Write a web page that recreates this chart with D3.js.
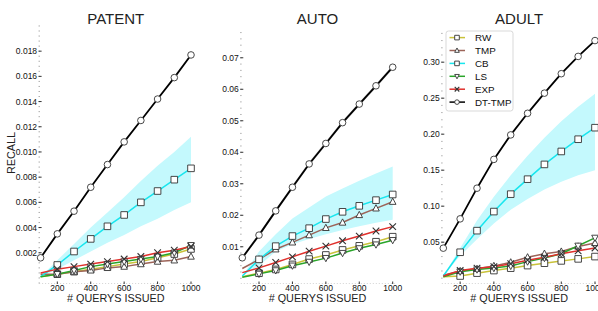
<!DOCTYPE html>
<html>
<head>
<meta charset="utf-8">
<script src="https://cdn.jsdelivr.net/npm/d3@7"></script>
<style>
  body { margin: 0; background: #fff; }
  svg { display: block; font-family: "Liberation Sans", Arial, sans-serif; }
</style>
</head>
<body>
<svg id="chart" width="598" height="311"></svg>
<script>
const QUERIES = [100, 200, 300, 400, 500, 600, 700, 800, 900, 1000]
const SERIES = ["RW", "TMP", "CB", "LS", "EXP", "DT-TMP"]
const X_TICKS = [200, 400, 600, 800, 1000]

// PATENT
const PATENT_RW = [0.0001, 0.0003, 0.0005, 0.0007, 0.0009, 0.0011, 0.0013, 0.0016, 0.0019, 0.0023]
const PATENT_TMP = [0.0003, 0.0003, 0.0005, 0.0006, 0.0008, 0.0009, 0.0011, 0.0013, 0.0014, 0.0017]
const PATENT_CB = [0.0001, 0.00103, 0.0021, 0.0031, 0.0041, 0.0050, 0.0060, 0.0069, 0.0078, 0.0087]
const PATENT_CB_LO = [0.0001, 0.0007, 0.0014, 0.0021, 0.0028, 0.0034, 0.0041, 0.0047, 0.0054, 0.0060]
const PATENT_CB_HI = [0.0001, 0.0014, 0.0027, 0.0040, 0.0052, 0.0064, 0.0077, 0.0089, 0.0100, 0.0112]
const PATENT_LS = [0.0001, 0.0003, 0.0006, 0.0009, 0.0011, 0.0013, 0.0015, 0.0017, 0.0020, 0.0026]
const PATENT_EXP = [0.0004, 0.0007, 0.0009, 0.0011, 0.0013, 0.0015, 0.0017, 0.0020, 0.0022, 0.0025]
const PATENT_DT = [0.0016, 0.0035, 0.0053, 0.0072, 0.0090, 0.0108, 0.0125, 0.0142, 0.0159, 0.0177]

// AUTO
const AUTO_RW = [0.0005, 0.0016, 0.0028, 0.0044, 0.0061, 0.0074, 0.0090, 0.0103, 0.0116, 0.0132]
const AUTO_TMP = [0.0031, 0.0060, 0.0092, 0.0114, 0.0137, 0.0160, 0.0177, 0.0201, 0.0222, 0.0243]
const AUTO_CB = [0.0007, 0.0060, 0.0102, 0.0134, 0.0159, 0.0188, 0.0211, 0.0230, 0.0248, 0.0266]
const AUTO_CB_LO = [0.0007, 0.0040, 0.0085, 0.0108, 0.0125, 0.0140, 0.0153, 0.0165, 0.0176, 0.0186]
const AUTO_CB_HI = [0.0007, 0.0085, 0.0140, 0.0190, 0.0225, 0.0260, 0.0285, 0.0310, 0.0333, 0.0355]
const AUTO_LS = [0.0003, 0.0014, 0.0025, 0.0040, 0.0052, 0.0064, 0.0080, 0.0095, 0.0107, 0.0121]
const AUTO_EXP = [0.0018, 0.0033, 0.0050, 0.0068, 0.0086, 0.0102, 0.0119, 0.0134, 0.0150, 0.0164]
const AUTO_DT = [0.0065, 0.0137, 0.0214, 0.0289, 0.0363, 0.0428, 0.0494, 0.0553, 0.0611, 0.0670]
const AUTO_DT_LO = [0.0060, 0.0131, 0.0208, 0.0283, 0.0357, 0.0422, 0.0488, 0.0547, 0.0605, 0.0664]
const AUTO_DT_HI = [0.0070, 0.0143, 0.0220, 0.0295, 0.0369, 0.0434, 0.0500, 0.0559, 0.0617, 0.0676]

// ADULT
const ADULT_RW = [0.002, 0.003, 0.007, 0.0106, 0.0139, 0.0175, 0.0208, 0.024, 0.0268, 0.030]
const ADULT_TMP = [0.004, 0.010, 0.013, 0.017, 0.022, 0.029, 0.034, 0.037, 0.044, 0.049]
const ADULT_CB = [0.003, 0.036, 0.066, 0.0925, 0.1167, 0.1375, 0.158, 0.176, 0.193, 0.209]
const ADULT_CB_LO = [0.003, 0.031, 0.054, 0.076, 0.095, 0.110, 0.123, 0.134, 0.143, 0.150]
const ADULT_CB_HI = [0.003, 0.042, 0.080, 0.113, 0.143, 0.170, 0.195, 0.218, 0.238, 0.256]
const ADULT_LS = [0.002, 0.009, 0.012, 0.014, 0.017, 0.023, 0.028, 0.034, 0.045, 0.056]
const ADULT_EXP = [0.003, 0.0106, 0.0139, 0.016, 0.020, 0.025, 0.029, 0.034, 0.038, 0.042]
const ADULT_DT = [0.0417, 0.0824, 0.125, 0.165, 0.199, 0.229, 0.257, 0.284, 0.308, 0.330]

const COLORS = {
    "RW": "#c9c23a",
    "TMP": "#9c6459",
    "CB": "#19e6ee",
    "LS": "#2aa52a",
    "EXP": "#e0302c",
    "DT-TMP": "#000000"
}
const MARKERS = {
    "RW": "square",
    "TMP": "up",
    "CB": "square",
    "LS": "down",
    "EXP": "x",
    "DT-TMP": "circle"
}

const panels = [
    {
        title: "PATENT", x0: 40.6, x1: 191, yDomain: [-0.0004, 0.0201], yTop: 24.7,
        yTicks: d3.range(1, 10).map(i => i * 0.002), minor: 0.0004, fmt: d3.format(".3f"),
        data: { "RW": PATENT_RW, "TMP": PATENT_TMP, "CB": PATENT_CB, "LS": PATENT_LS, "EXP": PATENT_EXP, "DT-TMP": PATENT_DT },
        bands: [{ lo: PATENT_CB_LO, hi: PATENT_CB_HI, fill: "#c4f9fd" }]
    },
    {
        title: "AUTO", x0: 242.3, x1: 392.7, yDomain: [-0.0015, 0.0785], yTop: 31,
        yTicks: d3.range(1, 8).map(i => i * 0.01), minor: 0.002, fmt: d3.format(".2f"),
        data: { "RW": AUTO_RW, "TMP": AUTO_TMP, "CB": AUTO_CB, "LS": AUTO_LS, "EXP": AUTO_EXP, "DT-TMP": AUTO_DT },
        bands: [{ lo: AUTO_CB_LO, hi: AUTO_CB_HI, fill: "#c4f9fd" },
                { lo: AUTO_DT_LO, hi: AUTO_DT_HI, fill: "#c4c4c4" }]
    },
    {
        title: "ADULT", x0: 443.3, x1: 595, yDomain: [-0.0067, 0.3415], yTop: 32.3,
        yTicks: d3.range(1, 7).map(i => i * 0.05), minor: 0.01, fmt: d3.format(".2f"),
        data: { "RW": ADULT_RW, "TMP": ADULT_TMP, "CB": ADULT_CB, "LS": ADULT_LS, "EXP": ADULT_EXP, "DT-TMP": ADULT_DT },
        bands: [{ lo: ADULT_CB_LO, hi: ADULT_CB_HI, fill: "#c4f9fd" }],
        legend: true
    }
]

const PLOT_BOTTOM = 283

const svg = d3.select("#chart")

function markerPath(kind, s)
{
    if (kind === "square") return `M${-s},${-s}H${s}V${s}H${-s}Z`
    if (kind === "circle") return d3.symbol(d3.symbolCircle, Math.PI * s * s)()
    if (kind === "up") return `M0,${-s * 1.1}L${s},${s * 0.8}H${-s}Z`
    if (kind === "down") return `M0,${s * 1.1}L${s},${-s * 0.8}H${-s}Z`
    return `M${-s},${-s}L${s},${s}M${-s},${s}L${s},${-s}`
}

function drawMarker(g, kind, x, y, s)
{
    g.append("path")
        .attr("d", markerPath(kind, s))
        .attr("transform", "translate(" + x + "," + y + ")")
        .attr("fill", kind === "x" ? "none" : "#fff")
        .attr("stroke", "#333")
        .attr("stroke-width", kind === "x" ? 1.1 : 0.9)
}

panels.forEach(function (p)
{
    const x = d3.scaleLinear().domain([100, 1000]).range([p.x0, p.x1])
    const y = d3.scaleLinear().domain(p.yDomain).range([PLOT_BOTTOM, p.yTop])
    const g = svg.append("g")
    const axisX = p.x0 - 1.5

    // bands
    p.bands.forEach(function (b)
    {
        const area = d3.area()
            .x((d, i) => x(QUERIES[i]))
            .y0((d, i) => y(b.lo[i]))
            .y1((d, i) => y(b.hi[i]))
        g.append("path").datum(b.lo).attr("d", area).attr("fill", b.fill)
    })

    // left axis: minor dots + major ticks
    const minors = d3.range(Math.ceil(p.yDomain[0] / p.minor), Math.floor(p.yDomain[1] / p.minor) + 1)
        .map(i => i * p.minor)
    g.selectAll(".mn").data(minors).enter().append("rect")
        .attr("x", axisX - 0.5).attr("y", d => y(d) - 0.5)
        .attr("width", 1.2).attr("height", 1)
        .attr("fill", "#9a9a9a")
    p.yTicks.forEach(function (t)
    {
        g.append("line")
            .attr("x1", axisX - 0.5).attr("x2", axisX + 2.5)
            .attr("y1", y(t)).attr("y2", y(t))
            .attr("stroke", "#333").attr("stroke-width", 1)
        g.append("text")
            .attr("x", axisX - 2).attr("y", y(t) + 3)
            .attr("text-anchor", "end")
            .attr("font-size", "8.5px").attr("fill", "#111")
            .text(p.fmt(t))
    })

    // bottom axis
    g.append("line")
        .attr("x1", axisX).attr("x2", p.x1 + 2)
        .attr("y1", PLOT_BOTTOM + 0.5).attr("y2", PLOT_BOTTOM + 0.5)
        .attr("stroke", "#c8c8c8").attr("stroke-width", 0.8)
        .attr("stroke-dasharray", "1,2")
    X_TICKS.forEach(function (t)
    {
        g.append("line")
            .attr("x1", x(t)).attr("x2", x(t))
            .attr("y1", PLOT_BOTTOM - 1.5).attr("y2", PLOT_BOTTOM + 1)
            .attr("stroke", "#333").attr("stroke-width", 1)
        g.append("text")
            .attr("x", x(t)).attr("y", PLOT_BOTTOM + 8)
            .attr("text-anchor", "middle")
            .attr("font-size", "8.5px").attr("fill", "#111")
            .text(t)
    })

    // lines
    const line = d3.line().x((d, i) => x(QUERIES[i])).y(d => y(d))
    SERIES.forEach(function (s)
    {
        g.append("path").datum(p.data[s])
            .attr("d", line)
            .attr("fill", "none")
            .attr("stroke", COLORS[s])
            .attr("stroke-width", s === "DT-TMP" ? 1.8 : 1.5)
    })
    SERIES.forEach(function (s)
    {
        p.data[s].forEach(function (v, i)
        {
            if (i === 0 && s !== "DT-TMP") return
            drawMarker(g, MARKERS[s], x(QUERIES[i]), y(v), s === "DT-TMP" ? 3.3 : 3.3)
        })
    })

    // texts
    const cx = (p.x0 + p.x1) / 2
    g.append("text")
        .attr("x", cx).attr("y", 24)
        .attr("text-anchor", "middle")
        .attr("font-size", "15px").attr("fill", "#222")
        .text(p.title)
    g.append("text")
        .attr("x", cx).attr("y", 302)
        .attr("text-anchor", "middle")
        .attr("font-size", "10.8px").attr("fill", "#222")
        .text("# QUERYS ISSUED")

    if (p.legend)
    {
        const lg = svg.append("g")
        lg.append("rect")
            .attr("x", 446).attr("y", 31).attr("width", 67).attr("height", 80)
            .attr("rx", 2.5)
            .attr("fill", "#fff").attr("stroke", "#cfcfcf").attr("stroke-width", 0.8)
        SERIES.forEach(function (s, i)
        {
            const ly = 37.6 + i * 12.9
            lg.append("line")
                .attr("x1", 449.5).attr("x2", 465)
                .attr("y1", ly).attr("y2", ly)
                .attr("stroke", COLORS[s]).attr("stroke-width", 1.5)
            drawMarker(lg, MARKERS[s], 457, ly, 2.3)
            lg.append("text")
                .attr("x", 475).attr("y", ly + 3.5)
                .attr("font-size", "9.8px").attr("fill", "#111")
                .text(s)
        })
    }
})

svg.append("text")
    .attr("transform", "translate(15,153) rotate(-90)")
    .attr("text-anchor", "middle")
    .attr("font-size", "10.8px").attr("fill", "#222")
    .text("RECALL")
</script>
</body>
</html>
